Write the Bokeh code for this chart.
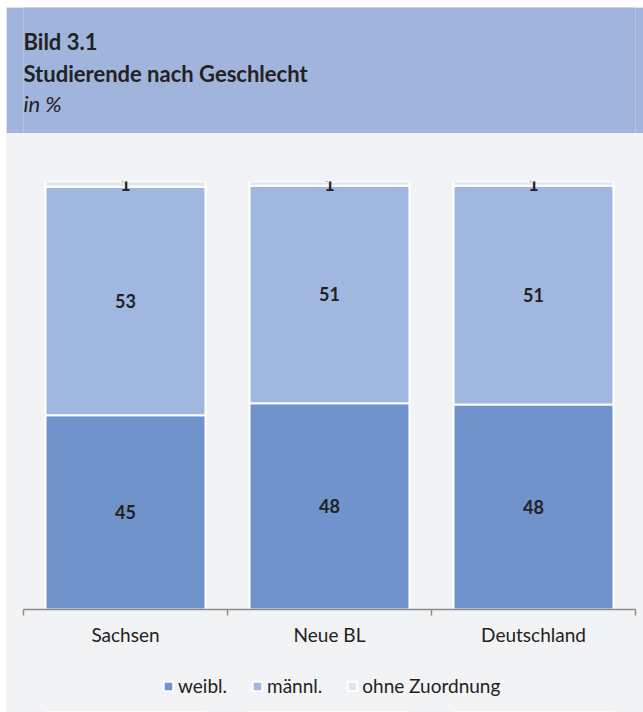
from bokeh.plotting import figure
from bokeh.models import Range1d, FixedTicker, Legend, LegendItem, ColumnDataSource, Spacer
from bokeh.layouts import column, row
from bokeh.embed import file_html
from bokeh.resources import INLINE
from bokeh.core.properties import value

# ---- data ----
categories = ["Sachsen", "Neue BL", "Deutschland"]
weibl = [45.4, 48.2, 47.9]
maennl = [53.4, 50.8, 51.1]
ohne = [1.2, 1.0, 1.0]
series_names = ["weibl.", "männl.", "ohne Zuordnung"]
title_lines = ["Bild 3.1", "Studierende nach Geschlecht", "in %"]

# ---- styles ----
FONT = "Lato"
C_W = "#6f93ca"
C_M = "#a0b8df"
C_O = "#dce6f3"
BG = "#f2f3f5"
BAND = "#a1b5dc"
TXT = "#222222"
COLORS = [C_W, C_M, C_O]

W = 637
HEAD_H = 126
MAIN_H = 527
LEG_H = 52
BL, BR = 17, 8  # frame borders (shared by the column)


def bare(fig, fill):
    fig.background_fill_color = fill
    fig.border_fill_color = fill
    fig.outline_line_color = None
    fig.grid.visible = False
    fig.title.visible = False


# ---- header ----
head = figure(width=W, height=HEAD_H, x_range=Range1d(BL, W - BR), y_range=Range1d(HEAD_H, 0),
              output_backend="svg", toolbar_location=None, x_axis_type=None, y_axis_type=None,
              min_border=0, min_border_left=BL, min_border_right=BR, min_border_top=0,
              min_border_bottom=0)
bare(head, BAND)
head.text(x=[BL, BL], y=[34, 66], text=title_lines[:2], text_font=value(FONT),
          text_font_style="bold", text_font_size="22px", text_color=TXT, text_baseline="alphabetic")
head.text(x=[BL], y=[96], text=title_lines[2:], text_font=value(FONT),
          text_font_style="italic", text_font_size="22px", text_color=TXT, text_baseline="alphabetic")

# ---- main chart ----
xs = [i + 0.5 for i in range(len(categories))]
src = ColumnDataSource(dict(x=xs, weibl=weibl, maennl=maennl, ohne=ohne))
stack_cols = ["weibl", "maennl", "ohne"]

p = figure(width=W, height=MAIN_H, x_range=Range1d(0, len(categories)), y_range=Range1d(0, 100),
           output_backend="svg", toolbar_location=None,
           min_border_left=BL, min_border_right=BR, min_border_top=48, min_border_bottom=51)
bare(p, BG)
p.yaxis.visible = False

p.vbar_stack(stack_cols, x="x", width=0.784, source=src,
             fill_color=COLORS, line_color="white", line_width=2)

# value labels centred in each segment
lx, ly, lt = [], [], []
for i, x in enumerate(xs):
    base = 0.0
    for v in (weibl[i], maennl[i], ohne[i]):
        lx.append(x)
        ly.append(base + v / 2)
        lt.append(str(round(v)))
        base += v
p.text(x=lx, y=ly, text=lt, text_align="center", text_baseline="middle",
       text_font=value(FONT), text_font_style="bold", text_font_size="18px", text_color=TXT)

ax = p.xaxis[0]
ax.ticker = FixedTicker(ticks=xs, minor_ticks=[float(i) for i in range(len(categories) + 1)])
ax.major_label_overrides = {x: c for x, c in zip(xs, categories)}
ax.axis_line_color = "#8c8c8c"
ax.axis_line_width = 1.5
ax.major_tick_line_color = None
ax.major_tick_out = 0
ax.major_tick_in = 0
ax.minor_tick_line_color = "#8c8c8c"
ax.minor_tick_line_width = 1.5
ax.minor_tick_out = 6
ax.minor_tick_in = 0
ax.major_label_standoff = 7
ax.major_label_text_font = FONT
ax.major_label_text_font_size = "19px"
ax.major_label_text_color = TXT

# ---- legend strip (same bars, drawn far out of view, only their legend shows) ----
leg = figure(width=W, height=LEG_H, x_range=Range1d(0, len(categories)),
             y_range=Range1d(1000, 1001),
             output_backend="svg", toolbar_location=None, x_axis_type=None, y_axis_type=None,
             min_border=0, min_border_left=BL, min_border_right=BR, min_border_top=0,
             min_border_bottom=0)
bare(leg, BG)
proxies = leg.vbar_stack(stack_cols, x="x", width=0.784, source=src,
                         fill_color=COLORS, line_color="white", line_width=2)
legend = Legend(items=[LegendItem(label=n, renderers=[r]) for n, r in zip(series_names, proxies)],
                orientation="horizontal", location=(139, 15),
                background_fill_alpha=0, border_line_color=None,
                label_text_font=FONT, label_text_font_size="19px", label_text_color=TXT,
                glyph_width=12, glyph_height=12, spacing=24, label_standoff=4,
                padding=0, margin=0)
leg.add_layout(legend, "center")

inner = column(head, p, leg, spacing=0, styles={"background-color": BG})
layout = column(Spacer(height=7),
                row(Spacer(width=6), inner, spacing=0),
                spacing=0)
open("out.html", "w").write(file_html(layout, INLINE))
